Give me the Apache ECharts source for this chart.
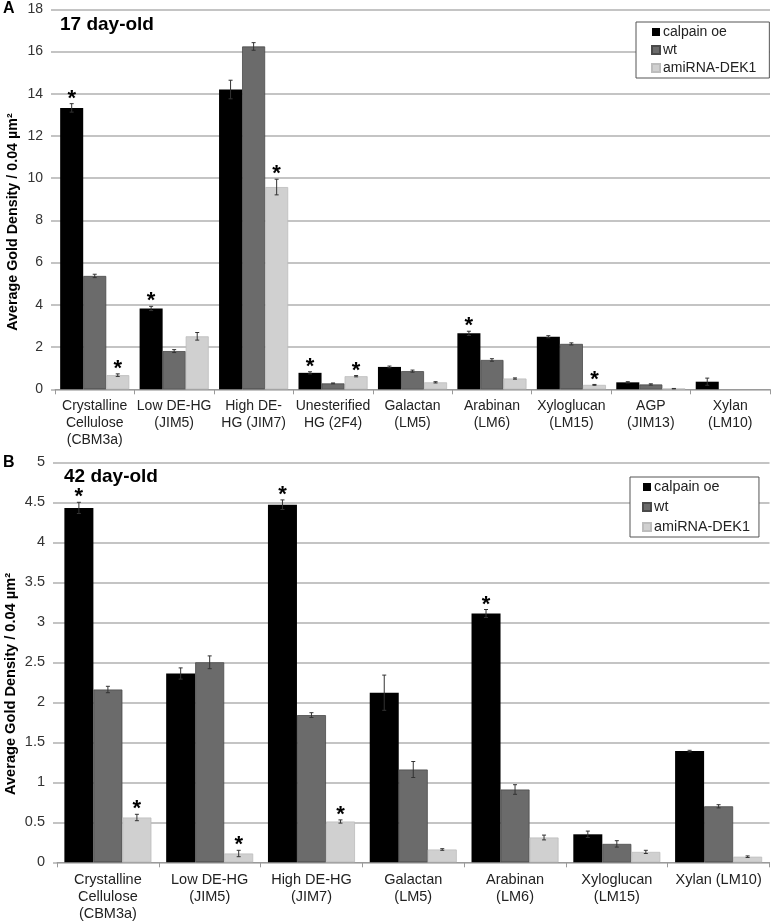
<!DOCTYPE html>
<html><head><meta charset="utf-8">
<script src="https://cdn.jsdelivr.net/npm/echarts@6/dist/echarts.min.js"></script>
<style>html,body{margin:0;padding:0;background:#fff}#c{width:774px;height:924px}</style>
</head><body><div id="c"></div>
<script>
// ---------- Panel A: 17 day-old ----------
var catsA = ['Crystalline\nCellulose\n(CBM3a)','Low DE-HG\n(JIM5)','High DE-\nHG (JIM7)','Unesterified\nHG (2F4)','Galactan\n(LM5)','Arabinan\n(LM6)','Xyloglucan\n(LM15)','AGP\n(JIM13)','Xylan\n(LM10)'];
var calpainA = [13.33, 3.83, 14.2, 0.78, 1.06, 2.65, 2.49, 0.33, 0.36];
var wtA      = [5.37, 1.81, 16.24, 0.28, 0.86, 1.39, 2.15, 0.23, null];
var amiA     = [0.67, 2.51, 9.58, 0.62, 0.33, 0.51, 0.21, 0.03, null];
var calpainErrA = [0.2, 0.1, 0.44, 0.05, 0.04, 0.1, 0.05, 0.03, 0.17];
var wtErrA      = [0.08, 0.07, 0.18, 0.02, 0.05, 0.06, 0.05, 0.03, null];
var amiErrA     = [0.06, 0.18, 0.37, 0.03, 0.03, 0.03, 0.02, 0.01, null];
var calpainSigA = [1,1,0,1,0,1,0,0,0];
var wtSigA      = [0,0,0,0,0,0,0,0,0];
var amiSigA     = [1,0,1,1,0,0,1,0,0];
var ticksA = {min:0, max:18, interval:2};

// ---------- Panel B: 42 day-old ----------
var catsB = ['Crystalline\nCellulose\n(CBM3a)','Low DE-HG\n(JIM5)','High DE-HG\n(JIM7)','Galactan\n(LM5)','Arabinan\n(LM6)','Xyloglucan\n(LM15)','Xylan (LM10)'];
var calpainB = [4.43, 2.36, 4.47, 2.12, 3.11, 0.35, 1.39];
var wtB      = [2.16, 2.50, 1.84, 1.16, 0.91, 0.23, 0.70];
var amiB     = [0.56, 0.11, 0.51, 0.16, 0.31, 0.13, 0.07];
var calpainErrB = [0.07, 0.07, 0.06, 0.22, 0.05, 0.04, 0.01];
var wtErrB      = [0.04, 0.08, 0.03, 0.10, 0.06, 0.04, 0.02];
var amiErrB     = [0.04, 0.04, 0.02, 0.01, 0.03, 0.02, 0.01];
var calpainSigB = [1,0,1,0,1,0,0];
var wtSigB      = [0,0,0,0,0,0,0];
var amiSigB     = [1,1,1,0,0,0,0];
var ticksB = {min:0, max:5, interval:0.5};

var seriesNames = ['calpain oe','wt','amiRNA-DEK1'];
var FONT = '"Liberation Sans", Arial, sans-serif';
var colors = ['#000000','#6b6b6b','#d0d0d0'];
var borders = ['#000000','#4a4a4a','#bdbdbd'];

function errRender(offsetIdx, frac){
  return function(params, api){
    var v = api.value(1), e = api.value(2), s = api.value(3);
    if (v === null || v === undefined || isNaN(v)) return {type:'group', children:[]};
    var x = api.value(0);
    var band = api.size([1,0])[0];
    var dx = offsetIdx*band*frac;
    var t = api.coord([x, v+e]);
    var b = api.coord([x, v-e]);
    var cx = t[0]+dx;
    var st = {stroke:'#333', lineWidth:1};
    var ch = [
      {type:'line', shape:{x1:cx,y1:t[1],x2:cx,y2:b[1]}, style:st},
      {type:'line', shape:{x1:cx-2,y1:t[1],x2:cx+2,y2:t[1]}, style:st},
      {type:'line', shape:{x1:cx-2,y1:b[1],x2:cx+2,y2:b[1]}, style:st}
    ];
    if (s) ch.push({type:'text', style:{text:'*', x:cx, y:t[1]+6, align:'center', verticalAlign:'bottom', font:'bold 22px ' + FONT, fill:'#000'}});
    return {type:'group', children:ch};
  };
}

function build(gi, vals, errs, sigs, frac){
  var out = [];
  for (var k=0;k<3;k++){
    out.push({
      type:'bar', name:seriesNames[k], xAxisIndex:gi, yAxisIndex:gi,
      data: vals[k], barWidth:(frac*100)+'%', barGap:'0%',
      itemStyle:{color:colors[k], borderColor:borders[k], borderWidth:k===0?0:0.8},
      emphasis:{disabled:true}, animation:false
    });
  }
  for (var k=0;k<3;k++){
    var d = vals[k].map(function(v,i){ return [i, v, errs[k][i], sigs[k][i]]; });
    out.push({
      type:'custom', xAxisIndex:gi, yAxisIndex:gi, data:d, z:5,
      encode:{x:0,y:1}, renderItem: errRender(k-1, frac), silent:true, animation:false
    });
  }
  return out;
}

var series = [].concat(
  build(0, [calpainA, wtA, amiA], [calpainErrA, wtErrA, amiErrA], [calpainSigA, wtSigA, amiSigA], 0.29),
  build(1, [calpainB, wtB, amiB], [calpainErrB, wtErrB, amiErrB], [calpainSigB, wtSigB, amiSigB], 0.285)
);

function xAx(gi, cats, fs, margin){
  return {type:'category', gridIndex:gi, data:cats,
    axisLine:{lineStyle:{color:'#9a9a9a', width:1.2}},
    axisTick:{show:true, length:5, lineStyle:{color:'#9a9a9a'}},
    axisLabel:{interval:0, color:'#222', fontFamily:FONT, fontSize:fs, lineHeight:17, margin:margin}};
}
function yAx(gi, t, fs){
  return {type:'value', gridIndex:gi, min:t.min, max:t.max, interval:t.interval,
    axisLine:{show:false},
    axisTick:{show:true, length:4, lineStyle:{color:'#b0b0b0', width:1.5}},
    splitLine:{lineStyle:{color:'#b0b0b0', width:1.5}},
    axisLabel:{color:'#333', fontFamily:FONT, fontSize:fs, margin:12}};
}

var legendBase = {data:seriesNames.map(function(n){return {name:n, icon:'rect'};}), orient:'vertical', itemWidth:8, itemHeight:8,
  borderColor:'#555', borderWidth:1, backgroundColor:'#fff', selectedMode:false};

var chart = echarts.init(document.getElementById('c'), null, {renderer:'canvas'});
chart.setOption({
  animation:false,
  backgroundColor:'#fff',
  title:[
    {text:'17 day-old', left:60, top:15, padding:0, textStyle:{fontFamily:FONT, fontWeight:'bold', fontSize:19, color:'#000'}},
    {text:'42 day-old', left:64, top:467, padding:0, textStyle:{fontFamily:FONT, fontWeight:'bold', fontSize:19, color:'#000'}},
    {text:'A', left:3, top:1, padding:0, textStyle:{fontFamily:FONT, fontWeight:'bold', fontSize:16, color:'#000'}},
    {text:'B', left:3, top:455, padding:0, textStyle:{fontFamily:FONT, fontWeight:'bold', fontSize:16, color:'#000'}}
  ],
  legend:[
    Object.assign({}, legendBase, {left:636, top:22, itemGap:4, padding:[3,13,3,15],
      textStyle:{fontFamily:FONT, fontSize:14, color:'#222', lineHeight:14, padding:[0,0,0,-2]}}),
    Object.assign({}, legendBase, {left:630, top:477, itemGap:6, padding:[3,9,3,12],
      textStyle:{fontFamily:FONT, fontSize:14.4, color:'#222', lineHeight:14, padding:[0,0,0,-2]}})
  ],
  grid:[
    {left:55, right:4, top:9.3, height:380},
    {left:57, right:4.5, top:462.3, height:400}
  ],
  xAxis:[xAx(0, catsA, 14, 8), xAx(1, catsB, 14.5, 9)],
  yAxis:[yAx(0, ticksA, 14), yAx(1, ticksB, 14.5)],
  graphic:[
    {type:'text', rotation:Math.PI/2, x:13, y:222, style:{text:'Average Gold Density / 0.04 µm²', align:'center', verticalAlign:'middle', font:'bold 14.3px ' + FONT, fill:'#000'}},
    {type:'text', rotation:Math.PI/2, x:11, y:684, style:{text:'Average Gold Density / 0.04 µm²', align:'center', verticalAlign:'middle', font:'bold 14.6px ' + FONT, fill:'#000'}}
  ],
  series:series
});
</script></body></html>
